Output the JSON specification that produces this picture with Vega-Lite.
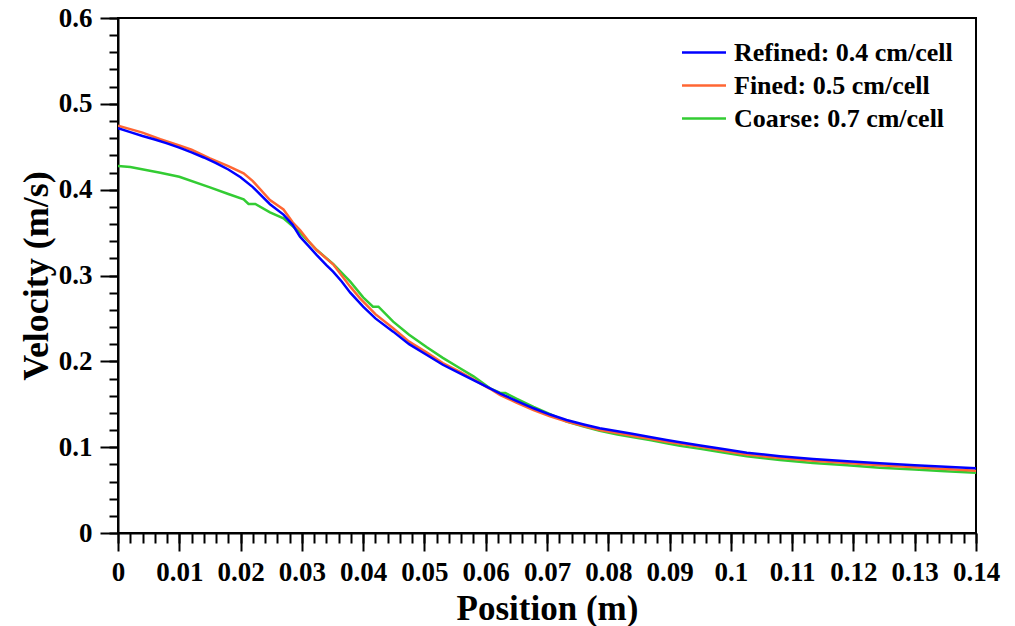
{
  "$schema": "https://vega.github.io/schema/vega-lite/v6.json",
  "width": 858,
  "height": 515,
  "autosize": "none",
  "padding": {"left": 118, "top": 18, "right": 39, "bottom": 93},
  "background": "white",
  "config": {"view": {"stroke": "black", "strokeWidth": 2}, "font": "Liberation Serif"},
  "data": {"values": [
    {"mesh": "Coarse: 0.7 cm/cell", "pos": 0, "vel": 0.4276},
    {"mesh": "Coarse: 0.7 cm/cell", "pos": 0.002, "vel": 0.4265},
    {"mesh": "Coarse: 0.7 cm/cell", "pos": 0.0069, "vel": 0.4198},
    {"mesh": "Coarse: 0.7 cm/cell", "pos": 0.010, "vel": 0.415},
    {"mesh": "Coarse: 0.7 cm/cell", "pos": 0.015, "vel": 0.4027},
    {"mesh": "Coarse: 0.7 cm/cell", "pos": 0.018, "vel": 0.395},
    {"mesh": "Coarse: 0.7 cm/cell", "pos": 0.0205, "vel": 0.3887},
    {"mesh": "Coarse: 0.7 cm/cell", "pos": 0.0213, "vel": 0.3833},
    {"mesh": "Coarse: 0.7 cm/cell", "pos": 0.0224, "vel": 0.3833},
    {"mesh": "Coarse: 0.7 cm/cell", "pos": 0.0248, "vel": 0.3736},
    {"mesh": "Coarse: 0.7 cm/cell", "pos": 0.027, "vel": 0.3666},
    {"mesh": "Coarse: 0.7 cm/cell", "pos": 0.0297, "vel": 0.350},
    {"mesh": "Coarse: 0.7 cm/cell", "pos": 0.0324, "vel": 0.330},
    {"mesh": "Coarse: 0.7 cm/cell", "pos": 0.0351, "vel": 0.3134},
    {"mesh": "Coarse: 0.7 cm/cell", "pos": 0.0379, "vel": 0.2928},
    {"mesh": "Coarse: 0.7 cm/cell", "pos": 0.040, "vel": 0.2745},
    {"mesh": "Coarse: 0.7 cm/cell", "pos": 0.0416, "vel": 0.2637},
    {"mesh": "Coarse: 0.7 cm/cell", "pos": 0.0425, "vel": 0.2637},
    {"mesh": "Coarse: 0.7 cm/cell", "pos": 0.0449, "vel": 0.2462},
    {"mesh": "Coarse: 0.7 cm/cell", "pos": 0.0475, "vel": 0.231},
    {"mesh": "Coarse: 0.7 cm/cell", "pos": 0.0504, "vel": 0.2163},
    {"mesh": "Coarse: 0.7 cm/cell", "pos": 0.053, "vel": 0.204},
    {"mesh": "Coarse: 0.7 cm/cell", "pos": 0.0558, "vel": 0.1919},
    {"mesh": "Coarse: 0.7 cm/cell", "pos": 0.058, "vel": 0.1825},
    {"mesh": "Coarse: 0.7 cm/cell", "pos": 0.0607, "vel": 0.1686},
    {"mesh": "Coarse: 0.7 cm/cell", "pos": 0.0623, "vel": 0.1635},
    {"mesh": "Coarse: 0.7 cm/cell", "pos": 0.0632, "vel": 0.1632},
    {"mesh": "Coarse: 0.7 cm/cell", "pos": 0.065, "vel": 0.1565},
    {"mesh": "Coarse: 0.7 cm/cell", "pos": 0.0678, "vel": 0.147},
    {"mesh": "Coarse: 0.7 cm/cell", "pos": 0.0705, "vel": 0.1385},
    {"mesh": "Coarse: 0.7 cm/cell", "pos": 0.0732, "vel": 0.1297},
    {"mesh": "Coarse: 0.7 cm/cell", "pos": 0.076, "vel": 0.124},
    {"mesh": "Coarse: 0.7 cm/cell", "pos": 0.0786, "vel": 0.1192},
    {"mesh": "Coarse: 0.7 cm/cell", "pos": 0.0815, "vel": 0.1148},
    {"mesh": "Coarse: 0.7 cm/cell", "pos": 0.0841, "vel": 0.1115},
    {"mesh": "Coarse: 0.7 cm/cell", "pos": 0.087, "vel": 0.108},
    {"mesh": "Coarse: 0.7 cm/cell", "pos": 0.0895, "vel": 0.1045},
    {"mesh": "Coarse: 0.7 cm/cell", "pos": 0.0917, "vel": 0.1015},
    {"mesh": "Coarse: 0.7 cm/cell", "pos": 0.095, "vel": 0.098},
    {"mesh": "Coarse: 0.7 cm/cell", "pos": 0.099, "vel": 0.0935},
    {"mesh": "Coarse: 0.7 cm/cell", "pos": 0.1026, "vel": 0.0895},
    {"mesh": "Coarse: 0.7 cm/cell", "pos": 0.108, "vel": 0.085},
    {"mesh": "Coarse: 0.7 cm/cell", "pos": 0.1134, "vel": 0.0816},
    {"mesh": "Coarse: 0.7 cm/cell", "pos": 0.119, "vel": 0.0788},
    {"mesh": "Coarse: 0.7 cm/cell", "pos": 0.1243, "vel": 0.0761},
    {"mesh": "Coarse: 0.7 cm/cell", "pos": 0.13, "vel": 0.074},
    {"mesh": "Coarse: 0.7 cm/cell", "pos": 0.135, "vel": 0.072},
    {"mesh": "Coarse: 0.7 cm/cell", "pos": 0.14, "vel": 0.0703},

    {"mesh": "Fined: 0.5 cm/cell", "pos": 0, "vel": 0.4746},
    {"mesh": "Fined: 0.5 cm/cell", "pos": 0.002, "vel": 0.4705},
    {"mesh": "Fined: 0.5 cm/cell", "pos": 0.004, "vel": 0.4665},
    {"mesh": "Fined: 0.5 cm/cell", "pos": 0.0069, "vel": 0.4587},
    {"mesh": "Fined: 0.5 cm/cell", "pos": 0.010, "vel": 0.4515},
    {"mesh": "Fined: 0.5 cm/cell", "pos": 0.012, "vel": 0.4465},
    {"mesh": "Fined: 0.5 cm/cell", "pos": 0.015, "vel": 0.4365},
    {"mesh": "Fined: 0.5 cm/cell", "pos": 0.018, "vel": 0.4275},
    {"mesh": "Fined: 0.5 cm/cell", "pos": 0.0205, "vel": 0.419},
    {"mesh": "Fined: 0.5 cm/cell", "pos": 0.022, "vel": 0.41},
    {"mesh": "Fined: 0.5 cm/cell", "pos": 0.0248, "vel": 0.388},
    {"mesh": "Fined: 0.5 cm/cell", "pos": 0.027, "vel": 0.377},
    {"mesh": "Fined: 0.5 cm/cell", "pos": 0.0285, "vel": 0.362},
    {"mesh": "Fined: 0.5 cm/cell", "pos": 0.0297, "vel": 0.353},
    {"mesh": "Fined: 0.5 cm/cell", "pos": 0.031, "vel": 0.341},
    {"mesh": "Fined: 0.5 cm/cell", "pos": 0.0324, "vel": 0.3297},
    {"mesh": "Fined: 0.5 cm/cell", "pos": 0.0351, "vel": 0.313},
    {"mesh": "Fined: 0.5 cm/cell", "pos": 0.0379, "vel": 0.287},
    {"mesh": "Fined: 0.5 cm/cell", "pos": 0.0395, "vel": 0.2734},
    {"mesh": "Fined: 0.5 cm/cell", "pos": 0.042, "vel": 0.255},
    {"mesh": "Fined: 0.5 cm/cell", "pos": 0.0449, "vel": 0.2385},
    {"mesh": "Fined: 0.5 cm/cell", "pos": 0.0475, "vel": 0.223},
    {"mesh": "Fined: 0.5 cm/cell", "pos": 0.0504, "vel": 0.2101},
    {"mesh": "Fined: 0.5 cm/cell", "pos": 0.053, "vel": 0.198},
    {"mesh": "Fined: 0.5 cm/cell", "pos": 0.0558, "vel": 0.1876},
    {"mesh": "Fined: 0.5 cm/cell", "pos": 0.058, "vel": 0.179},
    {"mesh": "Fined: 0.5 cm/cell", "pos": 0.0607, "vel": 0.168},
    {"mesh": "Fined: 0.5 cm/cell", "pos": 0.0623, "vel": 0.161},
    {"mesh": "Fined: 0.5 cm/cell", "pos": 0.065, "vel": 0.152},
    {"mesh": "Fined: 0.5 cm/cell", "pos": 0.0678, "vel": 0.1433},
    {"mesh": "Fined: 0.5 cm/cell", "pos": 0.0705, "vel": 0.136},
    {"mesh": "Fined: 0.5 cm/cell", "pos": 0.0732, "vel": 0.1297},
    {"mesh": "Fined: 0.5 cm/cell", "pos": 0.076, "vel": 0.1245},
    {"mesh": "Fined: 0.5 cm/cell", "pos": 0.0786, "vel": 0.120},
    {"mesh": "Fined: 0.5 cm/cell", "pos": 0.0815, "vel": 0.1165},
    {"mesh": "Fined: 0.5 cm/cell", "pos": 0.0841, "vel": 0.113},
    {"mesh": "Fined: 0.5 cm/cell", "pos": 0.087, "vel": 0.1095},
    {"mesh": "Fined: 0.5 cm/cell", "pos": 0.0895, "vel": 0.1064},
    {"mesh": "Fined: 0.5 cm/cell", "pos": 0.0917, "vel": 0.104},
    {"mesh": "Fined: 0.5 cm/cell", "pos": 0.095, "vel": 0.1005},
    {"mesh": "Fined: 0.5 cm/cell", "pos": 0.099, "vel": 0.0955},
    {"mesh": "Fined: 0.5 cm/cell", "pos": 0.1026, "vel": 0.0913},
    {"mesh": "Fined: 0.5 cm/cell", "pos": 0.108, "vel": 0.0875},
    {"mesh": "Fined: 0.5 cm/cell", "pos": 0.1134, "vel": 0.0843},
    {"mesh": "Fined: 0.5 cm/cell", "pos": 0.119, "vel": 0.0815},
    {"mesh": "Fined: 0.5 cm/cell", "pos": 0.1243, "vel": 0.0789},
    {"mesh": "Fined: 0.5 cm/cell", "pos": 0.13, "vel": 0.0765},
    {"mesh": "Fined: 0.5 cm/cell", "pos": 0.135, "vel": 0.0745},
    {"mesh": "Fined: 0.5 cm/cell", "pos": 0.14, "vel": 0.0726},

    {"mesh": "Refined: 0.4 cm/cell", "pos": 0, "vel": 0.4715},
    {"mesh": "Refined: 0.4 cm/cell", "pos": 0.002, "vel": 0.467},
    {"mesh": "Refined: 0.4 cm/cell", "pos": 0.004, "vel": 0.4625},
    {"mesh": "Refined: 0.4 cm/cell", "pos": 0.006, "vel": 0.4585},
    {"mesh": "Refined: 0.4 cm/cell", "pos": 0.008, "vel": 0.454},
    {"mesh": "Refined: 0.4 cm/cell", "pos": 0.010, "vel": 0.449},
    {"mesh": "Refined: 0.4 cm/cell", "pos": 0.012, "vel": 0.4435},
    {"mesh": "Refined: 0.4 cm/cell", "pos": 0.014, "vel": 0.4375},
    {"mesh": "Refined: 0.4 cm/cell", "pos": 0.016, "vel": 0.431},
    {"mesh": "Refined: 0.4 cm/cell", "pos": 0.018, "vel": 0.4235},
    {"mesh": "Refined: 0.4 cm/cell", "pos": 0.020, "vel": 0.4145},
    {"mesh": "Refined: 0.4 cm/cell", "pos": 0.022, "vel": 0.403},
    {"mesh": "Refined: 0.4 cm/cell", "pos": 0.0248, "vel": 0.383},
    {"mesh": "Refined: 0.4 cm/cell", "pos": 0.027, "vel": 0.371},
    {"mesh": "Refined: 0.4 cm/cell", "pos": 0.0285, "vel": 0.359},
    {"mesh": "Refined: 0.4 cm/cell", "pos": 0.0297, "vel": 0.3452},
    {"mesh": "Refined: 0.4 cm/cell", "pos": 0.031, "vel": 0.335},
    {"mesh": "Refined: 0.4 cm/cell", "pos": 0.0324, "vel": 0.324},
    {"mesh": "Refined: 0.4 cm/cell", "pos": 0.034, "vel": 0.312},
    {"mesh": "Refined: 0.4 cm/cell", "pos": 0.0351, "vel": 0.3045},
    {"mesh": "Refined: 0.4 cm/cell", "pos": 0.0365, "vel": 0.293},
    {"mesh": "Refined: 0.4 cm/cell", "pos": 0.0379, "vel": 0.280},
    {"mesh": "Refined: 0.4 cm/cell", "pos": 0.040, "vel": 0.2637},
    {"mesh": "Refined: 0.4 cm/cell", "pos": 0.042, "vel": 0.250},
    {"mesh": "Refined: 0.4 cm/cell", "pos": 0.0449, "vel": 0.2346},
    {"mesh": "Refined: 0.4 cm/cell", "pos": 0.0475, "vel": 0.220},
    {"mesh": "Refined: 0.4 cm/cell", "pos": 0.0504, "vel": 0.2074},
    {"mesh": "Refined: 0.4 cm/cell", "pos": 0.053, "vel": 0.196},
    {"mesh": "Refined: 0.4 cm/cell", "pos": 0.0558, "vel": 0.186},
    {"mesh": "Refined: 0.4 cm/cell", "pos": 0.058, "vel": 0.178},
    {"mesh": "Refined: 0.4 cm/cell", "pos": 0.0607, "vel": 0.1686},
    {"mesh": "Refined: 0.4 cm/cell", "pos": 0.0623, "vel": 0.1628},
    {"mesh": "Refined: 0.4 cm/cell", "pos": 0.065, "vel": 0.154},
    {"mesh": "Refined: 0.4 cm/cell", "pos": 0.0678, "vel": 0.1453},
    {"mesh": "Refined: 0.4 cm/cell", "pos": 0.0705, "vel": 0.138},
    {"mesh": "Refined: 0.4 cm/cell", "pos": 0.0732, "vel": 0.1317},
    {"mesh": "Refined: 0.4 cm/cell", "pos": 0.076, "vel": 0.1265},
    {"mesh": "Refined: 0.4 cm/cell", "pos": 0.0786, "vel": 0.122},
    {"mesh": "Refined: 0.4 cm/cell", "pos": 0.0815, "vel": 0.1185},
    {"mesh": "Refined: 0.4 cm/cell", "pos": 0.0841, "vel": 0.1153},
    {"mesh": "Refined: 0.4 cm/cell", "pos": 0.087, "vel": 0.1115},
    {"mesh": "Refined: 0.4 cm/cell", "pos": 0.0895, "vel": 0.1083},
    {"mesh": "Refined: 0.4 cm/cell", "pos": 0.0917, "vel": 0.1058},
    {"mesh": "Refined: 0.4 cm/cell", "pos": 0.095, "vel": 0.102},
    {"mesh": "Refined: 0.4 cm/cell", "pos": 0.099, "vel": 0.0975},
    {"mesh": "Refined: 0.4 cm/cell", "pos": 0.1026, "vel": 0.0936},
    {"mesh": "Refined: 0.4 cm/cell", "pos": 0.108, "vel": 0.0895},
    {"mesh": "Refined: 0.4 cm/cell", "pos": 0.1134, "vel": 0.0862},
    {"mesh": "Refined: 0.4 cm/cell", "pos": 0.119, "vel": 0.0835},
    {"mesh": "Refined: 0.4 cm/cell", "pos": 0.1243, "vel": 0.0812},
    {"mesh": "Refined: 0.4 cm/cell", "pos": 0.13, "vel": 0.079},
    {"mesh": "Refined: 0.4 cm/cell", "pos": 0.135, "vel": 0.0772},
    {"mesh": "Refined: 0.4 cm/cell", "pos": 0.14, "vel": 0.0754}
  ]},
  "layer": [
    {
      "mark": {"type": "line", "opacity": 0},
      "encoding": {
        "x": {
          "field": "pos", "type": "quantitative",
          "scale": {"domain": [0, 0.14], "nice": false, "zero": false},
          "axis": {
            "orient": "bottom", "title": null, "labels": false, "domain": false, "grid": false,
            "tickColor": "black", "tickWidth": 2, "tickSize": 10,
            "values": [0,0.002,0.004,0.006,0.008,0.01,0.012,0.014,0.016,0.018,0.02,0.022,0.024,0.026,0.028,0.03,0.032,0.034,0.036,0.038,0.04,0.042,0.044,0.046,0.048,0.05,0.052,0.054,0.056,0.058,0.06,0.062,0.064,0.066,0.068,0.07,0.072,0.074,0.076,0.078,0.08,0.082,0.084,0.086,0.088,0.09,0.092,0.094,0.096,0.098,0.1,0.102,0.104,0.106,0.108,0.11,0.112,0.114,0.116,0.118,0.12,0.122,0.124,0.126,0.128,0.13,0.132,0.134,0.136,0.138,0.14]
          }
        },
        "y": {
          "field": "vel", "type": "quantitative",
          "scale": {"domain": [0, 0.6], "nice": false},
          "axis": {
            "orient": "left", "title": null, "labels": false, "domain": false, "grid": false,
            "tickColor": "black", "tickWidth": 2, "tickSize": 9,
            "values": [0,0.02,0.04,0.06,0.08,0.1,0.12,0.14,0.16,0.18,0.2,0.22,0.24,0.26,0.28,0.3,0.32,0.34,0.36,0.38,0.4,0.42,0.44,0.46,0.48,0.5,0.52,0.54,0.56,0.58,0.6]
          }
        },
        "detail": {"field": "mesh"}
      }
    },
    {
      "mark": {"type": "line", "strokeWidth": 2.5, "clip": true},
      "encoding": {
        "x": {
          "field": "pos", "type": "quantitative",
          "scale": {"domain": [0, 0.14], "nice": false, "zero": false},
          "axis": {
            "orient": "bottom",
            "title": "Position (m)",
            "titleFont": "Liberation Serif", "titleFontSize": 35, "titleFontWeight": "bold", "titleColor": "black", "titlePadding": 6,
            "labelFont": "Liberation Serif", "labelFontSize": 27, "labelFontWeight": "bold", "labelColor": "black", "labelPadding": 8,
            "labelFlush": false, "labelOverlap": false, "grid": false,
            "domainColor": "black", "domainWidth": 2, "tickColor": "black", "tickWidth": 2, "tickSize": 18,
            "values": [0,0.01,0.02,0.03,0.04,0.05,0.06,0.07,0.08,0.09,0.1,0.11,0.12,0.13,0.14],
            "format": "~g"
          }
        },
        "y": {
          "field": "vel", "type": "quantitative",
          "scale": {"domain": [0, 0.6], "nice": false},
          "axis": {
            "orient": "left",
            "title": "Velocity (m/s)",
            "titleFont": "Liberation Serif", "titleFontSize": 36, "titleFontWeight": "bold", "titleColor": "black", "titlePadding": 3,
            "labelFont": "Liberation Serif", "labelFontSize": 27, "labelFontWeight": "bold", "labelColor": "black", "labelPadding": 8,
            "labelFlush": false, "labelOverlap": false, "grid": false,
            "domainColor": "black", "domainWidth": 2, "tickColor": "black", "tickWidth": 2, "tickSize": 18,
            "values": [0,0.1,0.2,0.3,0.4,0.5,0.6],
            "format": "~g"
          }
        },
        "color": {
          "field": "mesh", "type": "nominal",
          "scale": {"domain": ["Refined: 0.4 cm/cell", "Fined: 0.5 cm/cell", "Coarse: 0.7 cm/cell"], "range": ["#0000FF", "#FF6633", "#33CC33"]},
          "legend": {
            "title": null, "orient": "none", "legendX": 573, "legendY": 21.5,
            "symbolType": "M-2,0H2", "symbolSize": 484, "symbolStrokeWidth": 2.5,
            "labelFont": "Liberation Serif", "labelFontSize": 26, "labelFontWeight": "bold", "labelColor": "black",
            "labelLimit": 400, "rowPadding": 7, "labelOffset": 17
          }
        }
      }
    }
  ],
  "resolve": {"axis": {"x": "independent", "y": "independent"}}
}
